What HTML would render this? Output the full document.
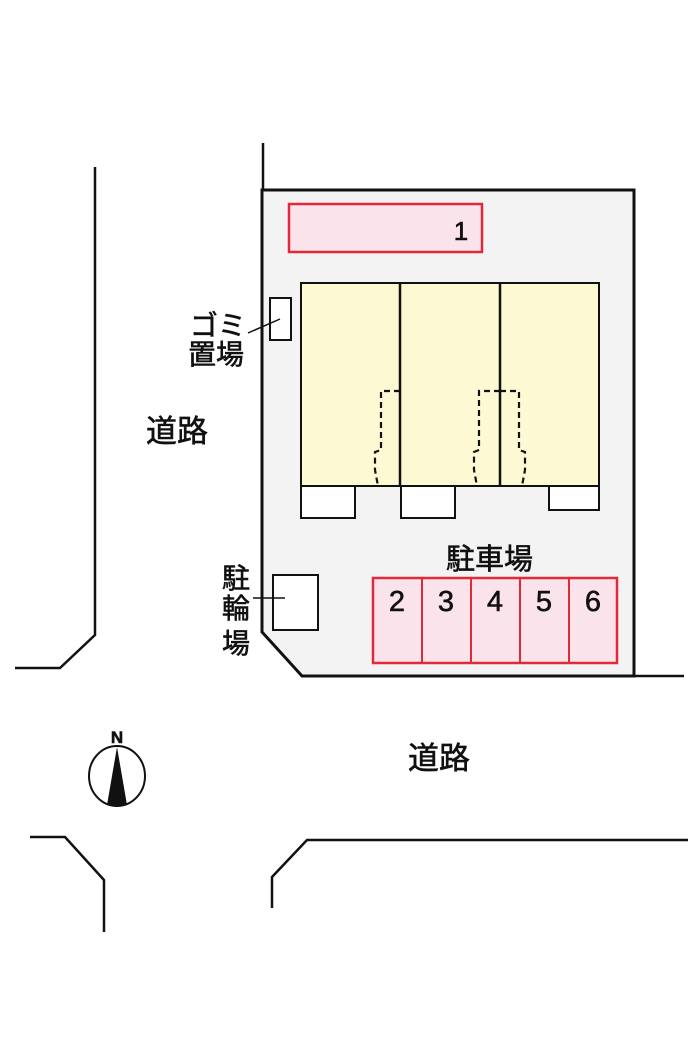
<!DOCTYPE html>
<html><head><meta charset="utf-8"><style>
html,body{margin:0;padding:0;background:#fff;}
svg{display:block;}
text{font-family:"Liberation Sans","Noto Sans CJK JP",sans-serif;fill:#111;stroke:#111;stroke-width:0.6;}
</style></head><body>
<svg width="700" height="1050" viewBox="0 0 700 1050" xmlns="http://www.w3.org/2000/svg">
<g fill="none" stroke="#111" stroke-width="2.5">
<polyline points="95,167 95,635 60,668 15,668"/>
<polyline points="30,837 65,837 104,880 104,932"/>
<polyline points="272,908 272,877 307,840 688,840"/>
<line x1="263" y1="143" x2="263" y2="190"/>
<line x1="634" y1="676" x2="684" y2="676"/>
</g>
<polygon points="262,190 634,190 634,676 302,676 262,632" fill="#f3f3f3" stroke="#111" stroke-width="3"/>
<rect x="289" y="204" width="193" height="48" fill="#fbe3ec" stroke="#e02a3a" stroke-width="2.5"/>
<text x="461" y="240" font-size="26" text-anchor="middle">1</text>
<rect x="301" y="283" width="298" height="203" fill="#fdf9d2" stroke="#111" stroke-width="2"/>
<line x1="400" y1="283" x2="400" y2="486" stroke="#111" stroke-width="2.5"/>
<line x1="500" y1="283" x2="500" y2="486" stroke="#111" stroke-width="2.5"/>
<g fill="none" stroke="#111" stroke-width="2.2" stroke-dasharray="6,4">
<polyline points="400,391 381,391 381,450 375,452 375,470 378,486"/>
<polyline points="500,391 479,391 479,450 474,452 474,470 477,486"/>
<polyline points="500,391 519,391 519,450 525,452 525,470 522,486"/>
</g>
<g fill="#fff" stroke="#111" stroke-width="2">
<rect x="301" y="486" width="54" height="32"/>
<rect x="401" y="486" width="54" height="32"/>
<rect x="549" y="486" width="50" height="24"/>
<rect x="270" y="298" width="21" height="42"/>
<rect x="273" y="575" width="45" height="55"/>
</g>
<line x1="248" y1="333" x2="280" y2="319" stroke="#111" stroke-width="1.5"/>
<line x1="253" y1="598" x2="285" y2="598" stroke="#111" stroke-width="1.5"/>
<text x="190" y="335" font-size="28">ゴミ</text>
<text x="188" y="364" font-size="28">置場</text>
<text x="222" y="588" font-size="28">駐</text>
<text x="222" y="618" font-size="28">輪</text>
<text x="222" y="653" font-size="28">場</text>
<text x="146" y="442" font-size="31">道路</text>
<text x="408" y="769" font-size="31">道路</text>
<text x="446" y="569" font-size="29">駐車場</text>
<rect x="373" y="578" width="244" height="85" fill="#fbe3ec" stroke="#e02a3a" stroke-width="2.5"/>
<g stroke="#e02a3a" stroke-width="2">
<line x1="422" y1="578" x2="422" y2="663"/><line x1="471" y1="578" x2="471" y2="663"/>
<line x1="520" y1="578" x2="520" y2="663"/><line x1="569" y1="578" x2="569" y2="663"/>
</g>
<g font-size="29" text-anchor="middle">
<text x="397" y="611">2</text><text x="446" y="611">3</text><text x="495" y="611">4</text><text x="544" y="611">5</text><text x="593" y="611">6</text>
</g>
<ellipse cx="117" cy="776" rx="28" ry="30" fill="none" stroke="#111" stroke-width="2"/>
<polygon points="117,747 107,805 127,805" fill="#111"/>
<text x="117" y="743" font-size="17" font-weight="bold" text-anchor="middle">N</text>
</svg>
</body></html>
